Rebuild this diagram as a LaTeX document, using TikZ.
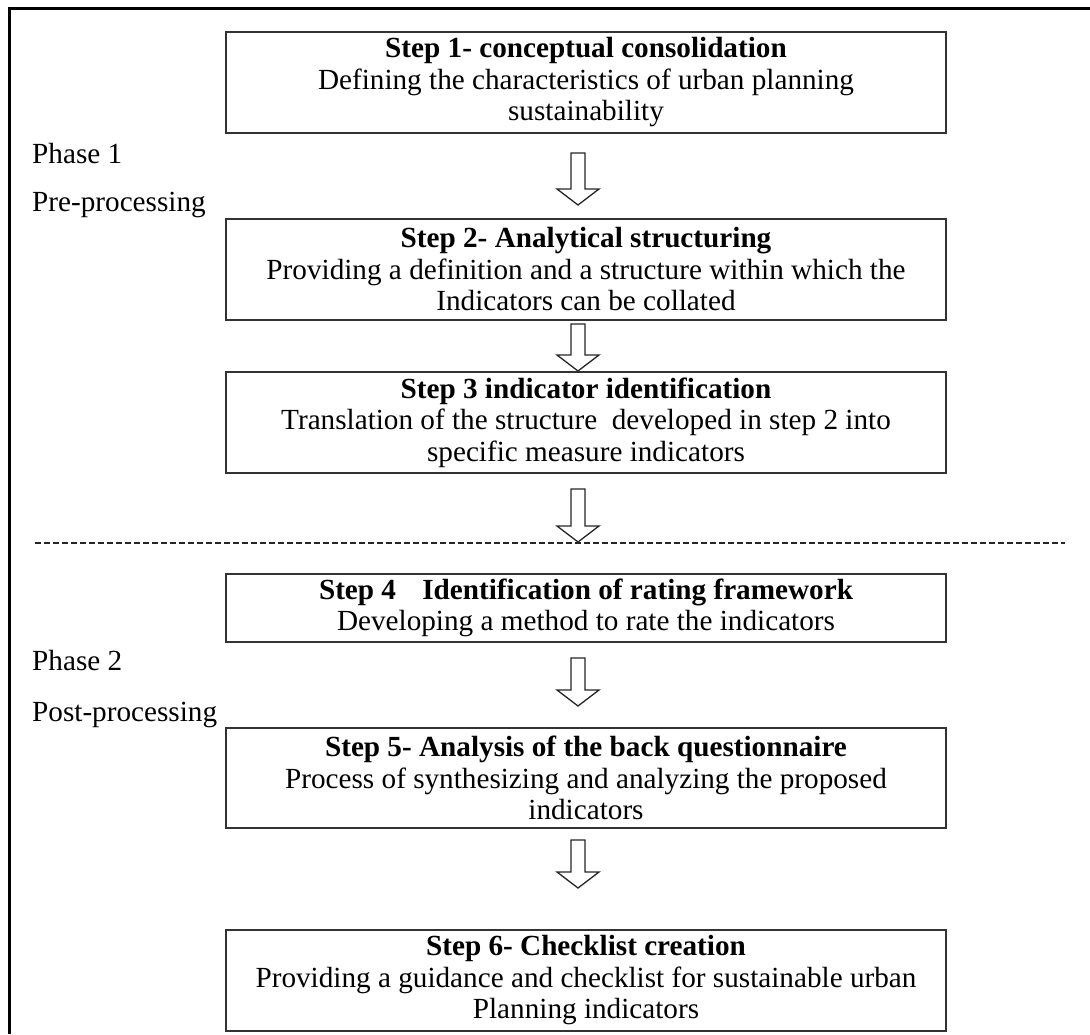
\documentclass[tikz,border=0pt]{standalone}
\usepackage{fontspec}
\setmainfont{Liberation Serif}
\newcommand{\blockarr}[3]{%
  \draw[barrow] (#1-7,#2) -- (#1+7,#2) -- (#1+7,#3-16) -- (#1+21,#3-16) -- (#1,#3) -- (#1-21,#3-16) -- (#1-7,#3-16) -- cycle;}
\begin{document}
\begin{tikzpicture}[x=1pt,y=-1pt,
  stepbox/.style={draw=black!80, line width=1.8pt, minimum width=720pt, inner sep=0pt, align=center, font=\fontsize{29.2}{31.5}\selectfont},
  lbl/.style={anchor=base west, inner sep=0pt, font=\fontsize{29.2}{31.5}\selectfont},
  barrow/.style={draw=black!85, line width=1.3pt, fill=white, line join=miter}]
\useasboundingbox (0,0) rectangle (1090,1034);
\draw[line width=3pt] (9,1034) -- (9,8) -- (1090,8);

\node[stepbox, minimum height=101pt] (b1) at (586,82.5) {\textbf{Step 1- conceptual consolidation}\\Defining the characteristics of urban planning\\sustainability};
\node[stepbox, minimum height=101pt] (b2) at (586,269.5) {\textbf{Step 2- Analytical structuring}\\Providing a definition and a structure within which the\\Indicators can be collated};
\node[stepbox, minimum height=101pt] (b3) at (586,422.5) {\textbf{Step 3 indicator identification}\\Translation of the structure\ \ developed in step 2 into\\specific measure indicators};
\node[stepbox, minimum height=68pt] (b4) at (586,608) {\textbf{Step 4\hspace{0.9em}Identification of rating framework}\\Developing a method to rate the indicators};
\node[stepbox, minimum height=100pt] (b5) at (586,778) {\textbf{Step 5- Analysis of the back questionnaire}\\Process of synthesizing and analyzing the proposed\\indicators};
\node[stepbox, minimum height=101pt] (b6) at (586,980.5) {\textbf{Step 6- Checklist creation}\\Providing a guidance and checklist for sustainable urban\\Planning indicators};

\node[lbl] (p1) at (32,163) {Phase 1};
\node[lbl] (p1b) at (32,211) {Pre-processing};
\node[lbl] (p2) at (32,670) {Phase 2};
\node[lbl] (p2b) at (32,721) {Post-processing};

\coordinate (dl) at (35,543);
\coordinate (dr) at (1065,543);
\draw[dash pattern=on 6pt off 3pt, line width=1.3pt, black!85] (dl) -- (dr);

\blockarr{578}{153}{205}
\blockarr{578}{324}{371}
\blockarr{578}{489}{542}
\blockarr{578}{658}{706}
\blockarr{578}{840}{888}
\end{tikzpicture}
\end{document}
